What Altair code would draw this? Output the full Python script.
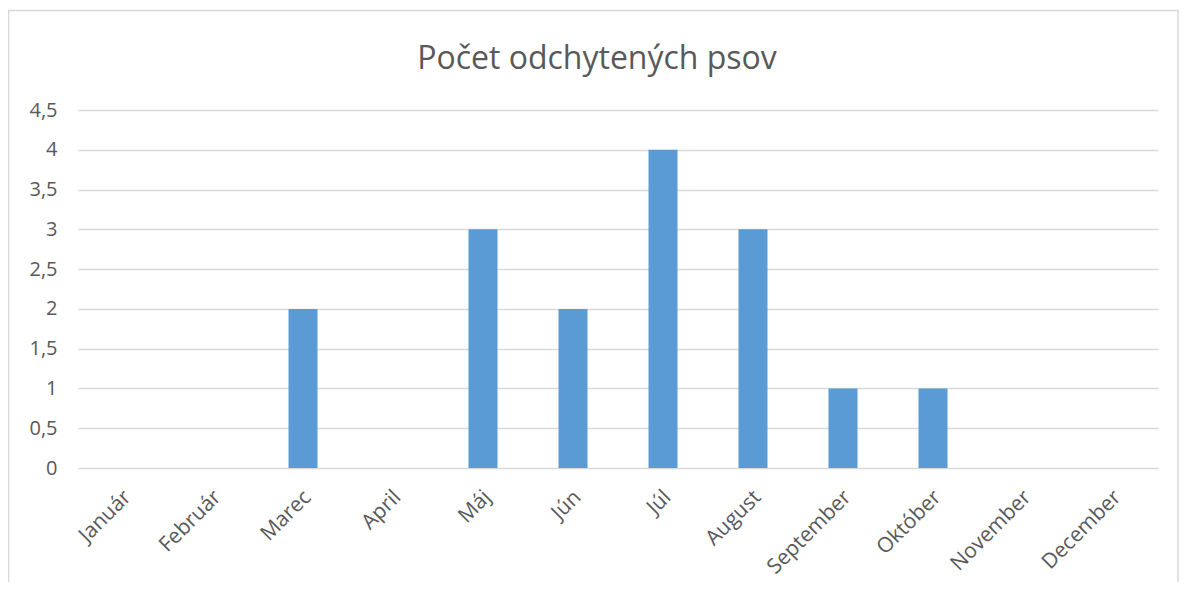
import altair as alt
import pandas as pd

months = ["Január", "Február", "Marec", "April", "Máj", "Jún", "Júl",
          "August", "September", "Október", "November", "December"]
counts = [0, 0, 2, 0, 3, 2, 4, 3, 1, 1, 0, 0]
title_text = "Počet odchytených psov"

df = pd.DataFrame({"mesiac": months, "pocet": counts})

W, H = 1080, 358
PL, PT, PR, PB = 70, 102, 21, 114

FONT = "Open Sans"
GREY = "#595959"

bars = alt.Chart(df).mark_bar(size=29, color="#5B9BD5").encode(
    x=alt.X("mesiac:N", sort=months, title=None,
            scale=alt.Scale(paddingInner=0, paddingOuter=0),
            axis=alt.Axis(labelAngle=-45, labelAlign="right", labelBaseline="top",
                          labelPadding=18, labelOffset=-3, ticks=False, domain=False,
                          grid=False, labelFontSize=21, labelColor=GREY,
                          labelFont=FONT)),
    y=alt.Y("pocet:Q", title=None,
            scale=alt.Scale(domain=[0, 4.5], nice=False),
            axis=alt.Axis(values=[0, 0.5, 1, 1.5, 2, 2.5, 3, 3.5, 4, 4.5],
                          labelExpr="replace(format(datum.value, ''), '.', ',')",
                          ticks=False, domain=False, grid=True,
                          gridColor="#D9D9D9", gridWidth=1.3,
                          labelPadding=21, labelFontSize=20,
                          labelColor=GREY, labelFont=FONT)),
)

frame = alt.Chart(alt.Data(values=[{}])).mark_rect(
    fill=None, stroke="#D9D9D9", strokeWidth=1.5
).encode(
    x=alt.value(-69.5), x2=alt.value(W + PR - 1),
    y=alt.value(-99.5), y2=alt.value(H + PB + 10),
)

title = alt.Chart(alt.Data(values=[{"t": title_text}])).mark_text(
    font=FONT, fontSize=32, color=GREY, align="center", baseline="alphabetic"
).encode(
    text="t:N", x=alt.value(519), y=alt.value(-41),
)

chart = alt.layer(frame, bars, title).properties(
    width=W, height=H,
    autosize=alt.AutoSizeParams(type="none"),
    padding={"left": PL, "top": PT, "right": PR, "bottom": PB},
).configure_view(stroke=None)

chart.save("out.html", embed_options={"renderer": "svg", "actions": False})
